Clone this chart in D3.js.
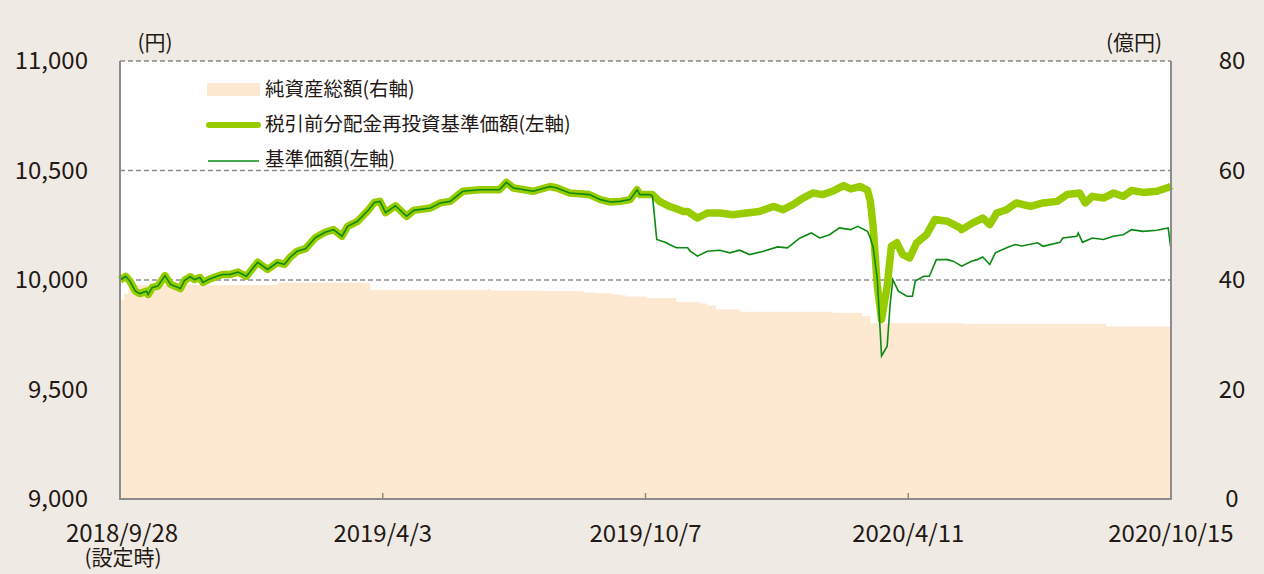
<!DOCTYPE html>
<html>
<head>
<meta charset="utf-8">
<script src="https://cdn.jsdelivr.net/npm/d3@7"></script>
<style>
  html, body { margin: 0; padding: 0; background: #efebe4; }
  svg { display: block; font-family: "Noto Sans CJK JP", "Noto Sans", sans-serif; }
</style>
</head>
<body>
<div id="chart"></div>
<script>
// 設定日
const startDate = new Date(2018, 8, 28);
const endDate = new Date(2020, 9, 15);

// 日数(設定日からの経過日) と 値 — 共通部分(分配前)
const commonPts = [
  [0,10000],[4,10017],[7,9995],[11,9949],[14,9938],[19,9949],[20,9934],[23,9966],[27,9972],
  [32,10020],[36,9980],[43,9961],[46,9999],[50,10015],[53,10002],[57,10011],[59,9989],[63,10002],
  [68,10015],[73,10025],[78,10025],[84,10036],[90,10017],[98,10081],[105,10048],[112,10080],
  [117,10071],[121,10103],[126,10131],[132,10143],[139,10193],[146,10218],[152,10230],[158,10200],
  [162,10245],[169,10268],[177,10321],[181,10354],[185,10359],[189,10308],[196,10339],[204,10291],
  [209,10318],[221,10329],[228,10352],[235,10359],[244,10405],[256,10412],[270,10412],[275,10446],
  [280,10420],[294,10405],[306,10427],[311,10420],[320,10397],[334,10390],[342,10367],[349,10356],
  [356,10359],[363,10367],[368,10412],[370,10390],[377,10390]
];

// 税引前分配金再投資基準価額(左軸) — 分配後
const reinvestPts = [
  [379,10390],[384,10359],[386,10352],[391,10336],[394,10330],[401,10313],[404,10313],[409,10291],
  [411,10283],[418,10306],[427,10306],[436,10298],[446,10306],[455,10313],[465,10336],[472,10321],
  [479,10344],[486,10374],[493,10397],[500,10390],[507,10405],[515,10431],[520,10416],[527,10427],
  [532,10410],[534,10360],[536,10245],[539,9972],[542,9820],[546,9972],[549,10154],[553,10170],
  [557,10116],[562,10101],[567,10170],[574,10207],[580,10276],[589,10268],[598,10238],[599,10230],
  [607,10261],[614,10283],[619,10253],[624,10306],[631,10321],[638,10352],[648,10336],[657,10352],
  [667,10359],[674,10390],[683,10397],[687,10352],[692,10382],[700,10374],[707,10397],[714,10382],
  [720,10409],[728,10400],[738,10405],[747,10425],[748,10430]
];

// 基準価額(左軸) — 分配後
const navPts = [
  [379,10382],[382,10185],[389,10170],[391,10162],[396,10147],[404,10147],[406,10131],[411,10109],
  [418,10131],[427,10136],[434,10124],[441,10136],[448,10116],[458,10131],[468,10151],[475,10147],
  [484,10192],[492,10215],[498,10192],[505,10207],[512,10238],[520,10230],[525,10245],[532,10222],
  [534,10192],[536,10150],[539,10002],[542,9653],[546,9698],[548,9881],[550,10002],[554,9949],
  [560,9926],[564,9926],[566,9995],[572,10017],[576,10017],[581,10093],[589,10093],[593,10086],
  [599,10063],[606,10086],[610,10093],[614,10105],[619,10071],[623,10124],[631,10147],[637,10162],
  [642,10155],[653,10170],[657,10154],[669,10172],[671,10192],[681,10200],[682,10215],[685,10172],
  [692,10192],[700,10185],[707,10200],[714,10207],[720,10230],[728,10222],[738,10227],[746,10238],
  [748,10139]
];

// 純資産総額(右軸, 億円)
const assetPts = [
  [0,36.4],[3,37.5],[6,38.6],[10,39.1],[110,39.2],[112,39.5],[175,39.4],[178,38.2],[260,38.2],
  [262,38.4],[264,38.1],[300,38.0],[330,37.7],[338,37.6],[350,37.4],[355,37.2],[360,37.0],
  [375,36.7],[396,36.0],[413,35.7],[418,35.3],[424,34.6],[441,34.2],[484,34.2],[507,34.0],
  [528,33.4],[534,32.1],[600,32.0],[702,31.5],[748,31.5]
];

const leftTicks = [9000, 9500, 10000, 10500, 11000];
const rightTicks = [0, 20, 40, 60, 80];
const gridTicks = [10000, 10500, 11000];
const xTickDates = [new Date(2018,8,28), new Date(2019,3,3), new Date(2019,9,7), new Date(2020,3,11), new Date(2020,9,15)];
const xTickLabels = ["2018/9/28", "2019/4/3", "2019/10/7", "2020/4/11", "2020/10/15"];
const legendLabels = ["純資産総額(右軸)", "税引前分配金再投資基準価額(左軸)", "基準価額(左軸)"];

(() => {
  const W = 1264, H = 574;
  const pl = 120, pr = 1171, pt = 61, pb = 499;

  const toDate = d => d3.timeDay.offset(startDate, d[0]);
  const reinvest = commonPts.concat(reinvestPts).map(d => ({ date: toDate(d), v: d[1] }));
  const nav = commonPts.concat(navPts).map(d => ({ date: toDate(d), v: d[1] }));
  const assets = assetPts.map(d => ({ date: toDate(d), v: d[1] }));

  const svg = d3.select("#chart").append("svg").attr("width", W).attr("height", H);

  svg.append("rect").attr("width", W).attr("height", H).attr("fill", "#efebe4");

  const x = d3.scaleTime().domain([startDate, endDate]).range([pl, pr]);
  const yL = d3.scaleLinear().domain([9000, 11000]).range([pb, pt]);
  const yR = d3.scaleLinear().domain([0, 80]).range([pb, pt]);

  // プロット領域
  svg.append("rect")
    .attr("x", pl).attr("y", pt)
    .attr("width", pr - pl).attr("height", pb - pt)
    .attr("fill", "#fff");

  // グリッド(破線)
  svg.append("g")
    .selectAll("line")
    .data(gridTicks)
    .join("line")
    .attr("x1", pl).attr("x2", pr)
    .attr("y1", d => yL(d)).attr("y2", d => yL(d))
    .attr("stroke", "#8c8c8c").attr("stroke-width", 1.5)
    .attr("stroke-dasharray", "5,3");

  // 純資産総額
  svg.append("path")
    .datum(assets)
    .attr("fill", "#fde9d1")
    .attr("d", d3.area().curve(d3.curveStepAfter)
      .x(d => x(d.date)).y0(yR(0)).y1(d => yR(d.v)));

  // 税引前分配金再投資基準価額
  svg.append("path")
    .datum(reinvest)
    .attr("fill", "none")
    .attr("stroke", "#99cc00")
    .attr("stroke-width", 7.5)
    .attr("stroke-linejoin", "round")
    .attr("d", d3.line().x(d => x(d.date)).y(d => yL(d.v)));

  // 基準価額
  svg.append("path")
    .datum(nav)
    .attr("fill", "none")
    .attr("stroke", "#0b8a12")
    .attr("stroke-width", 1.6)
    .attr("d", d3.line().x(d => x(d.date)).y(d => yL(d.v)));

  // 枠線
  svg.append("path")
    .attr("d", `M${pl},${pt}V${pb}H${pr}V${pt}`)
    .attr("fill", "none").attr("stroke", "#8c8c8c").attr("stroke-width", 2);

  // X軸の目盛り
  svg.append("g")
    .selectAll("line")
    .data(xTickDates.slice(1, -1))
    .join("line")
    .attr("x1", d => x(d)).attr("x2", d => x(d))
    .attr("y1", pb).attr("y2", pb - 6)
    .attr("stroke", "#8c8c8c").attr("stroke-width", 1.5);

  const textColor = "#231815";

  // 左軸ラベル
  svg.append("g")
    .selectAll("text")
    .data(leftTicks)
    .join("text")
    .attr("x", 88).attr("y", d => yL(d))
    .attr("dy", "0.35em")
    .attr("text-anchor", "end")
    .attr("font-size", 24)
    .attr("fill", textColor)
    .text(d => d3.format(",")(d));

  // 右軸ラベル
  svg.append("g")
    .selectAll("text")
    .data(rightTicks)
    .join("text")
    .attr("x", 1232).attr("y", d => yR(d))
    .attr("dy", "0.35em")
    .attr("text-anchor", "middle")
    .attr("font-size", 24)
    .attr("fill", textColor)
    .text(d => d);

  // X軸ラベル (先頭は2行: 日付 + (設定時))
  const xl = svg.append("g")
    .selectAll("text")
    .data(xTickDates)
    .join("text")
    .attr("y", 534)
    .attr("text-anchor", "middle")
    .attr("font-size", 24)
    .attr("fill", textColor);

  xl.append("tspan")
    .attr("x", (d, i) => i === 0 ? 122 : x(d))
    .attr("dy", "0.35em")
    .text((d, i) => xTickLabels[i]);

  xl.filter((d, i) => i === 0)
    .append("tspan")
    .attr("x", 123)
    .attr("dy", 23)
    .attr("font-size", 21)
    .text("(設定時)");

  // 単位
  svg.append("text")
    .attr("x", 155).attr("y", 43).attr("dy", "0.35em")
    .attr("text-anchor", "middle").attr("font-size", 21).attr("fill", textColor)
    .text("(円)");
  svg.append("text")
    .attr("x", 1134).attr("y", 43).attr("dy", "0.35em")
    .attr("text-anchor", "middle").attr("font-size", 21).attr("fill", textColor)
    .text("(億円)");

  // 凡例
  const lg = svg.append("g");
  const rowY = [89, 124, 159];
  lg.append("rect").attr("x", 207).attr("y", rowY[0] - 6).attr("width", 53).attr("height", 13).attr("fill", "#fde9d1");
  lg.append("line").attr("x1", 209).attr("x2", 258).attr("y1", rowY[1] + 1).attr("y2", rowY[1] + 1)
    .attr("stroke", "#99cc00").attr("stroke-width", 6).attr("stroke-linecap", "round");
  lg.append("line").attr("x1", 208).attr("x2", 259).attr("y1", rowY[2] + 2).attr("y2", rowY[2] + 2)
    .attr("stroke", "#0b8a12").attr("stroke-width", 1.6);
  lg.selectAll("text")
    .data(legendLabels)
    .join("text")
    .attr("x", 265).attr("y", (d, i) => rowY[i])
    .attr("dy", "0.35em")
    .attr("font-size", 19.5)
    .attr("fill", textColor)
    .text(d => d);
})();
</script>
</body>
</html>
